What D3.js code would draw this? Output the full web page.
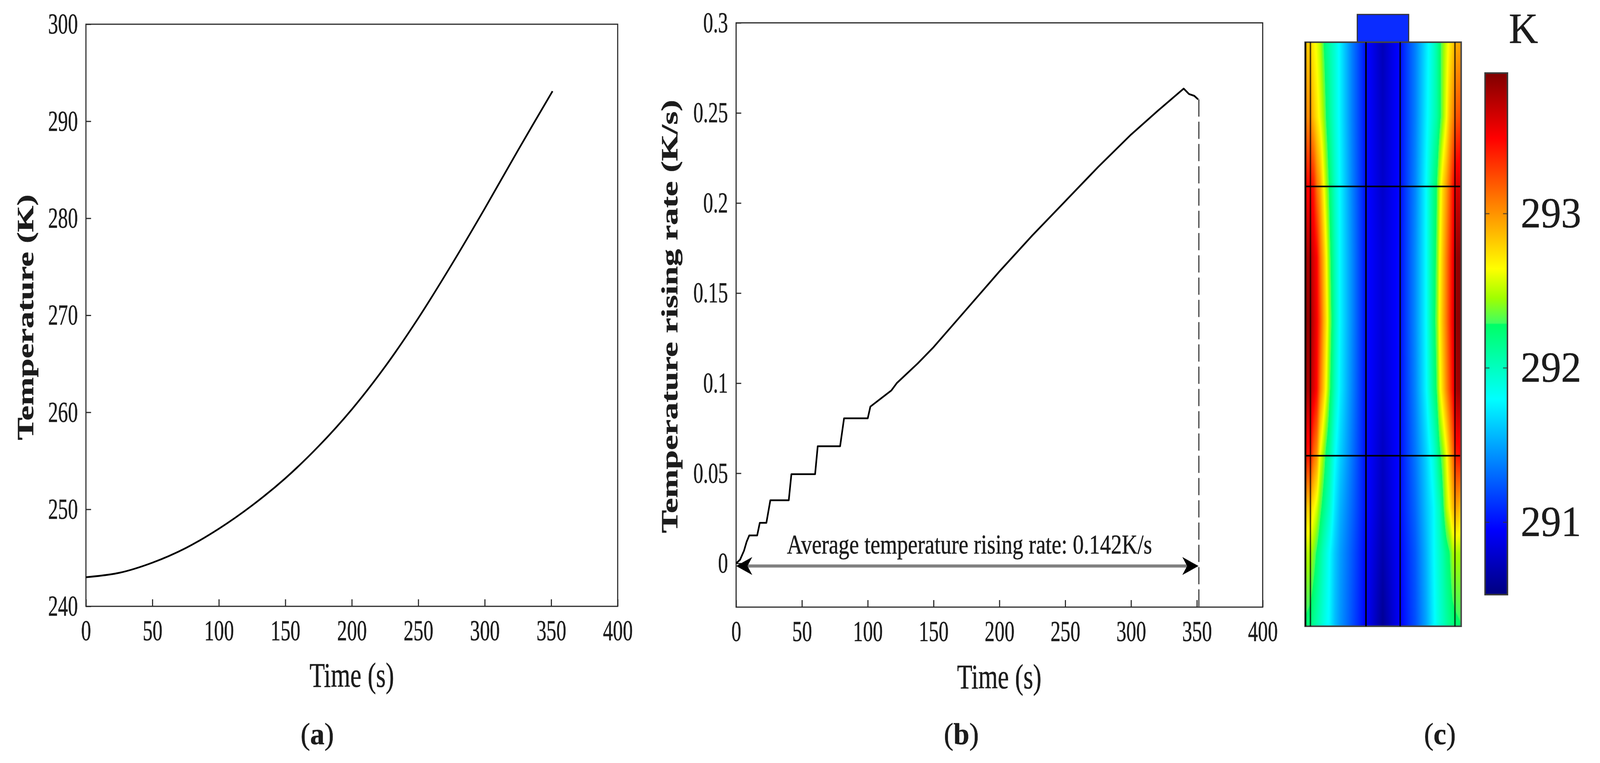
<!DOCTYPE html>
<html>
<head>
<meta charset="utf-8">
<script src="https://cdn.jsdelivr.net/npm/d3@7"></script>
<style>
  html, body { margin: 0; background: #fff; overflow: hidden; }
  canvas, svg { position: absolute; left: 0; top: 0; width: 100vw; height: 100vh; }
  text { font-family: "Liberation Serif", serif; fill: #1c1c1c; stroke: #1c1c1c; stroke-width: .7; }
</style>
</head>
<body>
<script>
// panel (a)
const tempTime = [0, 25, 50, 75, 100, 125, 150, 175, 200, 225, 250, 275, 300, 325, 351];
const tempVals = [243, 243.45, 244.5, 246, 248, 250.4, 253.2, 256.5, 260.3, 264.7, 269.7, 275.2, 281, 287, 293.1];
const xTicks = [0, 50, 100, 150, 200, 250, 300, 350, 400];
const tempTicks = [240, 250, 260, 270, 280, 290, 300];

// panel (b)
const rateTime = [0, 3, 6, 8, 10, 16, 18, 23, 26, 40, 42, 60, 62, 79, 82, 100, 102, 118, 122, 138, 150, 175, 200, 225, 250, 275, 300, 320, 340, 344, 348, 351];
const rateVals = [0, .002, .007, .012, .0155, .0155, .0225, .0225, .035, .035, .0495, .0495, .065, .065, .0805, .0805, .087, .096, .1, .111, .12, .141, .162, .182, .201, .22, .238, .251, .2635, .2605, .2595, .2575];
const rateTicks = [0, .05, .1, .15, .2, .25, .3];
const rateTickLabels = ["0", "0.05", "0.1", "0.15", "0.2", "0.25", "0.3"];
const avgEnd = 351.5;
const avgLabel = "Average temperature rising rate: 0.142K/s";

// panel (c): temperature read at fractions of the body width / height
const cellX = [0, .034, .054, .075, .095, .116, .136, .156, .19, .224, .299, .388, .497, .61, .707, .776, .823, .844, .864, .884, .905, .925, .946, .966, 1];
const cellY = [0, .127, .247, .369, .478, .594, .707, .797, .875, 1];
const row0 = [292.85, 292.78, 292.68, 292.6, 292.5, 292.3, 292.16, 292.07, 291.93, 291.76, 291.38, 291, 290.72, 291, 291.38, 291.72, 291.95, 292.08, 292.25, 292.4, 292.55, 292.68, 292.8, 292.9, 292.95];
const row1 = [293.06, 293, 292.85, 292.72, 292.6, 292.45, 292.26, 292.12, 291.93, 291.76, 291.38, 291, 290.75, 291, 291.38, 291.75, 291.98, 292.08, 292.24, 292.42, 292.62, 292.85, 293.02, 293.2, 293.25];
const row2 = [293.5, 293.47, 293.4, 293.1, 292.95, 292.68, 292.45, 292.25, 291.98, 291.78, 291.4, 291, 290.78, 291, 291.4, 291.8, 292.15, 292.28, 292.55, 292.78, 292.95, 293.15, 293.4, 293.6, 293.65];
const row3 = [293.8, 293.75, 293.6, 293.48, 293.15, 292.9, 292.64, 292.35, 292.03, 291.78, 291.42, 291, 290.82, 291, 291.42, 291.8, 292.18, 292.33, 292.64, 292.85, 293.06, 293.27, 293.49, 293.8, 293.88];
const row4 = [293.88, 293.82, 293.65, 293.5, 293.25, 292.95, 292.72, 292.42, 292.05, 291.78, 291.42, 291, 290.82, 291, 291.42, 291.8, 292.2, 292.36, 292.68, 292.88, 293.08, 293.3, 293.52, 293.82, 293.9];
const row5 = [293.8, 293.75, 293.6, 293.45, 293.1, 292.85, 292.6, 292.33, 292, 291.75, 291.4, 291, 290.8, 291, 291.4, 291.78, 292.15, 292.3, 292.6, 292.8, 293.02, 293.22, 293.45, 293.75, 293.85];
const row6 = [293.45, 293.4, 293.15, 293, 292.62, 292.42, 292.22, 292.1, 291.82, 291.65, 291.35, 291, 290.75, 291, 291.35, 291.65, 291.9, 292.05, 292.25, 292.4, 292.6, 292.85, 293.1, 293.4, 293.45];
const row7 = [292.85, 292.8, 292.68, 292.55, 292.35, 292.2, 292.08, 291.97, 291.72, 291.55, 291.3, 291, 290.72, 291, 291.3, 291.6, 291.78, 291.92, 292.02, 292.25, 292.48, 292.64, 292.85, 292.95, 292.85];
const row8 = [292.5, 292.48, 292.38, 292.25, 292.12, 292, 291.9, 291.8, 291.62, 291.48, 291.25, 290.97, 290.68, 290.97, 291.25, 291.55, 291.78, 291.88, 291.97, 292.06, 292.18, 292.27, 292.45, 292.48, 292.45];
const row9 = [292.25, 292.2, 292.12, 292.05, 291.98, 291.9, 291.83, 291.77, 291.58, 291.45, 291.22, 290.95, 290.6, 290.95, 291.22, 291.5, 291.75, 291.85, 291.93, 292, 292.08, 292.15, 292.2, 292.24, 292.28];
const cellRows = [row0, row1, row2, row3, row4, row5, row6, row7, row8, row9];
const dividerX = [.003, .034, .39, .609, .96];
const dividerAlpha = [1, .7, 1, .85, .7];
const dividerY = [.247, .708];
const tempMin = 290.53, tempMax = 293.91;
const barTicks = [291, 292, 293];
const jetColors = ["#00007f", "#0000ff", "#00ffff", "#00ff66", "#40ff60", "#a0ff00", "#ffff00", "#ff0000", "#7f0000"];
const jetStops = [0, .125, .375, .518, .5206, .5685, .625, .875, 1];

// the window comes up narrower than the figure, so everything is laid out
// in figure pixels and the viewBox squeezes it to whatever width there is
const W = 4357, H = 1953;
const body = d3.select("body");
const canvas = body.append("canvas").attr("width", W).attr("height", H);
const svg = body.append("svg").attr("viewBox", `0 0 ${W} ${H}`).attr("preserveAspectRatio", "none");

// glyphs get squeezed to a set width, the source figure is stretched
const digitW = 27;
const tickWidth = s => s.split("").reduce((w, c) => w + (c === "." ? digitW / 2 : digitW), 0);

function drawPanel(o) {
  const x = d3.scaleLinear().domain([0, 400]).range(o.xr);
  const y = d3.scaleLinear().domain(o.yd).range(o.yr);
  const g = svg.append("g");

  g.append("rect")
    .attr("x", o.xr[0]).attr("y", o.yr[1])
    .attr("width", o.xr[1] - o.xr[0]).attr("height", o.yr[0] - o.yr[1])
    .attr("fill", "none").attr("stroke", "#2a2a2a").attr("stroke-width", 3);

  const gx = g.append("g")
    .attr("transform", `translate(0,${o.yr[0]})`)
    .call(d3.axisBottom(x).tickValues(xTicks).tickSize(-18).tickPadding(34));
  const gy = g.append("g")
    .attr("transform", `translate(${o.xr[0]},0)`)
    .call(d3.axisLeft(y).tickValues(o.yTicks).tickSize(-14).tickPadding(22)
      .tickFormat((d, i) => o.yLabels ? o.yLabels[i] : d));

  [gx, gy].forEach(a => {
    a.select(".domain").remove();
    a.selectAll("line").attr("stroke", "#2a2a2a").attr("stroke-width", 3);
    a.selectAll("text")
      .attr("font-size", 74)
      .attr("font-family", null)
      .attr("lengthAdjust", "spacingAndGlyphs")
      .attr("textLength", function () { return tickWidth(this.textContent); });
  });

  g.append("text")
    .attr("x", o.xLabelX).attr("y", o.xLabelY)
    .attr("text-anchor", "middle").attr("font-size", 88)
    .attr("lengthAdjust", "spacingAndGlyphs").attr("textLength", 230)
    .text("Time (s)");

  g.append("text")
    .attr("transform", `translate(${o.yLabelX},${o.yLabelMid}) rotate(-90)`)
    .attr("text-anchor", "middle").attr("font-size", o.yLabelSize).attr("font-weight", "bold")
    .attr("lengthAdjust", "spacingAndGlyphs").attr("textLength", o.yLabelLen)
    .text(o.yLabel);

  const line = d3.line().x(d => x(d[0])).y(d => y(d[1])).curve(o.curve);
  g.append("path")
    .attr("d", line(d3.zip(o.xs, o.ys)))
    .attr("fill", "none").attr("stroke", "#000").attr("stroke-width", 4.5)
    .attr("stroke-linejoin", "round");

  g.append("text")
    .attr("x", o.capX).attr("y", 1905)
    .attr("text-anchor", "middle").attr("font-size", 78)
    .html(`(<tspan font-weight="bold">${o.cap}</tspan>)`);

  return { x, y, g };
}

drawPanel({
  xr: [234, 1682], yr: [1552, 62], yd: [240, 300], yTicks: tempTicks,
  xs: tempTime, ys: tempVals, curve: d3.curveCatmullRom,
  xLabelX: 958, xLabelY: 1758,
  yLabel: "Temperature (K)", yLabelX: 90, yLabelMid: 812, yLabelLen: 629, yLabelSize: 62,
  capX: 864, cap: "a"
});

const pb = drawPanel({
  xr: [2004.5, 3438.5], yr: [1554, 58.5], yd: [-.0243, .3], yTicks: rateTicks, yLabels: rateTickLabels,
  xs: rateTime, ys: rateVals, curve: d3.curveLinear,
  xLabelX: 2721, xLabelY: 1762,
  yLabel: "Temperature rising rate (K/s)", yLabelX: 1845, yLabelMid: 810, yLabelLen: 1109, yLabelSize: 64,
  capX: 2618, cap: "b"
});

// dashed drop line and the average arrow in (b)
const arrowY = pb.y(-.0015);
pb.g.append("line")
  .attr("x1", pb.x(avgEnd)).attr("x2", pb.x(avgEnd))
  .attr("y1", pb.y(rateVals[rateVals.length - 1])).attr("y2", pb.y.range()[0])
  .attr("stroke", "#333").attr("stroke-width", 3).attr("stroke-dasharray", "44 13");
pb.g.append("line")
  .attr("x1", pb.x(0) + 30).attr("x2", pb.x(avgEnd) - 30)
  .attr("y1", arrowY).attr("y2", arrowY)
  .attr("stroke", "#808080").attr("stroke-width", 8);
[[pb.x(0), 1], [pb.x(avgEnd) - 1, -1]].forEach(([tip, dir]) => {
  const head = d3.path();
  head.moveTo(tip, arrowY);
  head.lineTo(tip + dir * 44, arrowY - 23);
  head.lineTo(tip + dir * 31, arrowY);
  head.lineTo(tip + dir * 44, arrowY + 23);
  head.closePath();
  pb.g.append("path").attr("d", head.toString()).attr("fill", "#000");
});
pb.g.append("text")
  .attr("x", 2640).attr("y", 1417)
  .attr("text-anchor", "middle").attr("font-size", 70)
  .attr("lengthAdjust", "spacingAndGlyphs").attr("textLength", 994)
  .text(avgLabel);

// panel (c)
const jet = d3.scaleLinear()
  .domain(jetStops.map(f => tempMin + f * (tempMax - tempMin)))
  .range(jetColors).clamp(true);

const bodyX = d3.scaleLinear().domain([0, 1]).range([3554, 3979]);
const bodyY = d3.scaleLinear().domain([0, 1]).range([108, 1603]);

const ctx = canvas.node().getContext("2d");
const bw = Math.round(bodyX(1) - bodyX(0)), bh = Math.round(bodyY(1) - bodyY(0));
const img = ctx.createImageData(bw, bh);
const colScales = cellX.map((_, j) => d3.scaleLinear().domain(cellY).range(cellRows.map(r => r[j])));
for (let py = 0; py < bh; py++) {
  const fy = py / (bh - 1);
  const profile = d3.scaleLinear().domain(cellX).range(colScales.map(s => s(fy)));
  for (let px = 0; px < bw; px++) {
    const c = d3.rgb(jet(profile(px / (bw - 1))));
    const k = (py * bw + px) * 4;
    img.data[k] = c.r; img.data[k + 1] = c.g; img.data[k + 2] = c.b; img.data[k + 3] = 255;
  }
}
ctx.putImageData(img, bodyX(0), bodyY(0));

const pc = svg.append("g");
pc.append("rect")
  .attr("x", 3696).attr("y", 37).attr("width", 140).attr("height", bodyY(0) - 37)
  .attr("fill", "#0a2cff").attr("stroke", "#333").attr("stroke-width", 3);
pc.append("rect")
  .attr("x", bodyX(0)).attr("y", bodyY(0))
  .attr("width", bodyX(1) - bodyX(0)).attr("height", bodyY(1) - bodyY(0))
  .attr("fill", "none").attr("stroke", "#444").attr("stroke-width", 4);
pc.selectAll("line.vdiv").data(dividerX).join("line")
  .attr("class", "vdiv")
  .attr("x1", d => bodyX(d)).attr("x2", d => bodyX(d))
  .attr("y1", bodyY(0)).attr("y2", bodyY(1))
  .attr("stroke", "#000").attr("stroke-width", 4)
  .attr("stroke-opacity", (d, i) => dividerAlpha[i]);
pc.selectAll("line.hdiv").data(dividerY).join("line")
  .attr("class", "hdiv")
  .attr("x1", bodyX(0)).attr("x2", bodyX(1) - 3)
  .attr("y1", d => bodyY(d)).attr("y2", d => bodyY(d))
  .attr("stroke", "#000").attr("stroke-width", 4);

// colour bar
const barY = d3.scaleLinear().domain([tempMin, tempMax]).range([1522, 187]);
const grad = svg.append("defs").append("linearGradient")
  .attr("id", "jet").attr("x1", 0).attr("x2", 0).attr("y1", 1).attr("y2", 0);
grad.selectAll("stop").data(jetStops).join("stop")
  .attr("offset", d => d)
  .attr("stop-color", (d, i) => jetColors[i]);
pc.append("rect")
  .attr("x", 4044).attr("y", 187).attr("width", 61).attr("height", 1335)
  .attr("fill", "url(#jet)").attr("stroke", "#3a3a3a").attr("stroke-width", 4);
const barAxis = pc.append("g")
  .attr("transform", "translate(4105,0)")
  .call(d3.axisRight(barY).tickValues(barTicks).tickSize(-12).tickPadding(36).tickFormat(d3.format("d")));
barAxis.select(".domain").remove();
barAxis.selectAll("line").attr("stroke", "#333").attr("stroke-opacity", .7).attr("stroke-width", 3);
barAxis.selectAll("g.tick").append("line")
  .attr("x1", -61).attr("x2", -49)
  .attr("stroke", "#333").attr("stroke-opacity", .7).attr("stroke-width", 3);
barAxis.selectAll("text").attr("font-size", 110).attr("font-family", null);
pc.append("text")
  .attr("x", 4109).attr("y", 110).attr("font-size", 110)
  .text("K");
pc.append("text")
  .attr("x", 3921).attr("y", 1905)
  .attr("text-anchor", "middle").attr("font-size", 78)
  .html('(<tspan font-weight="bold">c</tspan>)');
</script>
</body>
</html>
